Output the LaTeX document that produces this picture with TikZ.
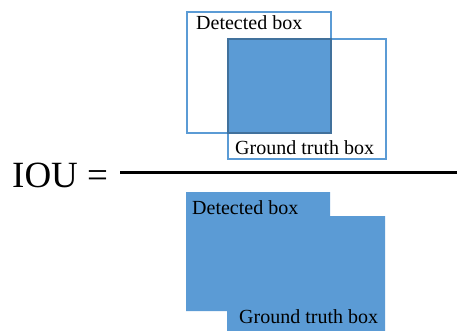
\documentclass[tikz,border=0pt]{standalone}
\usepackage{fontspec}
\setmainfont{Liberation Serif}
\definecolor{cajaazul}{HTML}{5B9BD5}
\definecolor{bordeazul}{HTML}{41719C}
\tikzset{
  etiqueta/.style={anchor=base west, inner sep=0pt, font=\fontsize{20}{22}\selectfont},
  contorno/.style={draw=cajaazul, line width=1.6pt},
}
\begin{document}
\begin{tikzpicture}[x=1pt, y=-1pt]
            \useasboundingbox (0,0) rectangle (457,331);

            % Numerador: cajas superpuestas
            \draw[contorno] (187,12) rectangle (331,133);
            \draw[contorno] (228,39) rectangle (386,159);
            \draw[fill=cajaazul, draw=bordeazul, line width=1.4pt] (228,39) rectangle (331,133);
            \node[etiqueta] (detArriba) at (196,30) {Detected box};
            \node[etiqueta] (gtArriba) at (235,154) {Ground truth box};

            % Linea de fraccion
            \draw[line width=2.8pt] (120,172.5) -- (457,172.5);
            \node[anchor=base west, inner sep=0pt, font=\fontsize{37}{40}\selectfont] (iou) at (12,187) {IOU =};

            % Denominador: union de las cajas
            \fill[cajaazul] (186,192) -- (330,192) -- (330,216) -- (385,216) -- (385,331)
                -- (227,331) -- (227,311) -- (186,311) -- cycle;
            \node[etiqueta] (detAbajo) at (192,214) {Detected box};
            \node[etiqueta] (gtAbajo) at (239,323) {Ground truth box};
        \end{tikzpicture}
\end{document}
